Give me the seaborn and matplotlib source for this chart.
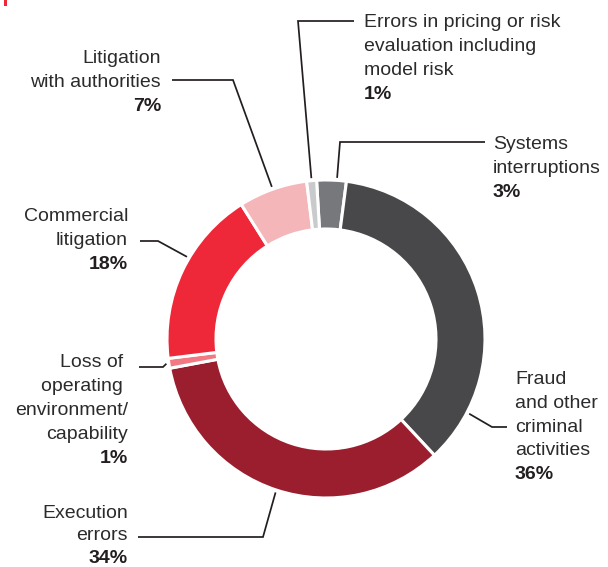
import numpy as np
import matplotlib
matplotlib.use("Agg")
import matplotlib.pyplot as plt
import seaborn as sns
from matplotlib.patches import Rectangle

# ---- data ----
categories = [
    ["Systems", "interruptions"],
    ["Fraud", "and other", "criminal", "activities"],
    ["Execution", "errors"],
    ["Loss of ", "operating ", "environment/", "capability"],
    ["Commercial", "litigation"],
    ["Litigation", "with authorities"],
    ["Errors in pricing or risk", "evaluation including", "model risk"],
]
shares = [3, 36, 34, 1, 18, 7, 1]
pct_labels = ["3%", "36%", "34%", "1%", "18%", "7%", "1%"]
slice_colors = ["#77787b", "#48484a", "#9b1e2e", "#f27983", "#ee2838", "#f4b6b9", "#c9cacc"]

# ---- layout (pixel units, y measured from top) ----
W, H = 608, 567
CX, CY, R, RING = 326, 339, 159, 49
# label anchor: x, first baseline y, alignment
label_pos = [(493, 149, "left"), (515, 384.5, "left"), (128, 517.5, "right"),
             (128, 366.7, "right"), (128, 221, "right"), (161, 63.3, "right"),
             (364, 27.3, "left")]
line_gap = [23.8, 23.6, 22.6, 24.1, 24.1, 23.7, 24.0]
# leader lines: fraction along wedge (clockwise), elbow, end
anchor_frac = [0.68, 0.85, 0.5, 0.5, 0.58, 0.5, 0.5]
elbows = [(340, 142), (492, 427), (263, 537), (163, 367), (158, 241), (233, 80), (298, 21)]
ends = [(485, 142), (507, 427), (138, 537), (139, 367), (140, 241), (172, 80), (354, 21)]

sns.set_theme(style="white")
plt.rcParams["font.family"] = ["Liberation Sans", "DejaVu Sans"]

fig = plt.figure(figsize=(W / 100, H / 100), dpi=100)
ax = fig.add_axes([0, 0, 1, 1])

def Y(y):
    return H - y

wedges, _ = ax.pie(shares, colors=slice_colors, startangle=93.4, counterclock=False,
                   radius=R, center=(CX, Y(CY)),
                   wedgeprops=dict(width=RING, edgecolor="white", linewidth=2.2))

txt_color = "#231f20"
for i, w in enumerate(wedges):
    ang = np.deg2rad(w.theta2 - anchor_frac[i] * (w.theta2 - w.theta1))
    ax_ = CX + (R + 2.5) * np.cos(ang)
    ay_ = Y(CY) + (R + 2.5) * np.sin(ang)
    ex, ey = elbows[i]
    nx, ny = ends[i]
    ax.plot([ax_, ex, nx], [ay_, Y(ey), Y(ny)], color=txt_color, lw=1.25,
            solid_capstyle="butt", solid_joinstyle="miter")

    x0, y0, ha = label_pos[i]
    lines = categories[i]
    for k, ln in enumerate(lines):
        ax.text(x0, Y(y0 + k * line_gap[i]), ln, ha=ha, va="baseline",
                fontsize=14, color="#2b2b2d")
    ax.text(x0, Y(y0 + len(lines) * line_gap[i]), pct_labels[i], ha=ha, va="baseline",
            fontsize=14, fontweight="bold", color=txt_color)

ax.add_patch(Rectangle((4, Y(6)), 3, 6, color="#ee2838", lw=0))

ax.set_xlim(0, W)
ax.set_ylim(0, H)
ax.set_aspect("equal")
ax.axis("off")
fig.savefig("out.png", dpi=100, facecolor="white")
